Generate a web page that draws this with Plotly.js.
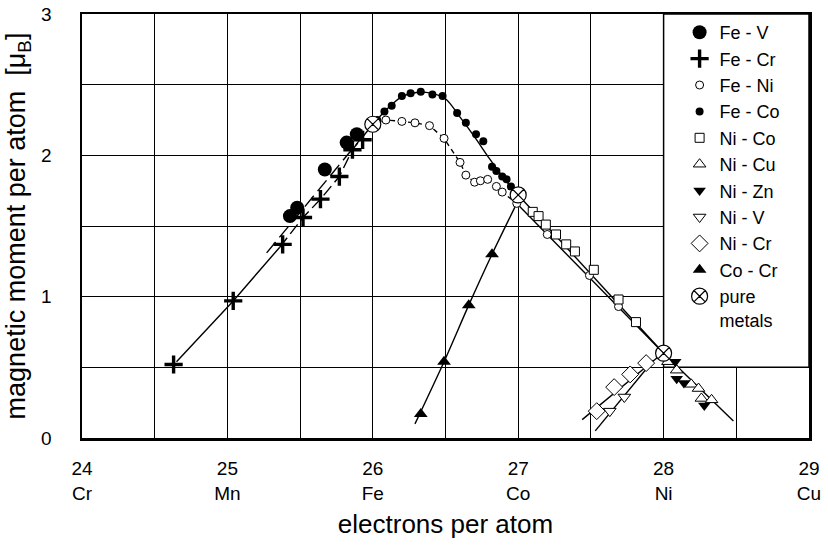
<!DOCTYPE html>
<html>
<head>
<meta charset="utf-8">
<script src="https://cdn.plot.ly/plotly-3.0.1.min.js"></script>
<style>html,body{margin:0;padding:0;background:#fff;}#chart{width:828px;height:547px;}</style>
</head>
<body>
<div id="chart"></div>
<script>
// ---- data ----
const xTickVals = [24, 25, 26, 27, 28, 29];
const xTickText = ['24<br>Cr', '25<br>Mn', '26<br>Fe', '27<br>Co', '28<br>Ni', '29<br>Cu'];

const feV_x = [25.43, 25.48, 25.67, 25.82, 25.89];
const feV_y = [1.57, 1.63, 1.90, 2.09, 2.15];

const feCr_x = [24.63, 25.04, 25.38, 25.52, 25.64, 25.77, 25.86, 25.93];
const feCr_y = [0.52, 0.97, 1.37, 1.56, 1.69, 1.85, 2.04, 2.11];

const feNi_x = [26.09, 26.20, 26.29, 26.39, 26.49, 26.60, 26.64, 26.70, 26.74, 26.79, 26.85, 26.89, 26.99, 27.20, 27.49, 27.69];
const feNi_y = [2.25, 2.24, 2.23, 2.21, 2.12, 1.95, 1.86, 1.81, 1.82, 1.83, 1.78, 1.74, 1.66, 1.44, 1.15, 0.93];

const feCo_x = [26.03, 26.08, 26.13, 26.20, 26.26, 26.33, 26.41, 26.48, 26.58, 26.64, 26.71, 26.76, 26.82, 26.85, 26.89, 26.92, 26.95];
const feCo_y = [2.25, 2.31, 2.35, 2.42, 2.44, 2.45, 2.43, 2.42, 2.30, 2.23, 2.15, 2.10, 1.92, 1.89, 1.85, 1.83, 1.78];

const niCo_x = [27.10, 27.14, 27.19, 27.26, 27.33, 27.39, 27.52, 27.69, 27.81];
const niCo_y = [1.60, 1.57, 1.51, 1.44, 1.37, 1.32, 1.19, 0.98, 0.82];

const niCu_x = [28.03, 28.09, 28.19, 28.24, 28.26, 28.33];
const niCu_y = [0.54, 0.48, 0.38, 0.35, 0.28, 0.27];

const niZn_x = [28.08, 28.09, 28.14, 28.28];
const niZn_y = [0.54, 0.42, 0.39, 0.23];

const niV_x = [27.63, 27.73];
const niV_y = [0.19, 0.29];

const niCr_x = [27.54, 27.66, 27.77, 27.88];
const niCr_y = [0.19, 0.36, 0.45, 0.53];

const coCr_x = [26.33, 26.49, 26.66, 26.82];
const coCr_y = [0.17, 0.54, 0.94, 1.30];

const pure_x = [26, 27, 28];
const pure_y = [2.22, 1.72, 0.60];
const pure_names = ['Fe', 'Co', 'Ni'];

// guide curves drawn in the reference
const feCrSolid_x = [24.65, 25.04, 25.36];
const feCrSolid_y = [0.54, 0.97, 1.35];
const feCrDash_x = [25.36, 25.52, 25.64, 25.77, 25.86, 26.0];
const feCrDash_y = [1.35, 1.56, 1.69, 1.85, 2.04, 2.22];
const feVDash_x = [25.27, 26.0];
const feVDash_y = [1.31, 2.22];
const feCoCurve_x = [26.0, 26.1, 26.2, 26.3, 26.4, 26.5, 26.6, 26.7, 26.8, 26.9, 27.0];
const feCoCurve_y = [2.22, 2.33, 2.415, 2.445, 2.44, 2.40, 2.27, 2.13, 1.98, 1.84, 1.72];
const feNiDash_x = [26.0, 26.09, 26.20, 26.29, 26.39, 26.49, 26.60, 26.64, 26.70, 26.74, 26.79, 26.85, 26.89, 26.99];
const feNiDash_y = [2.22, 2.25, 2.24, 2.23, 2.21, 2.12, 1.95, 1.86, 1.81, 1.82, 1.83, 1.78, 1.74, 1.66];
const feNiLine_x = [26.99, 28.0];
const feNiLine_y = [1.66, 0.60];
const niCoLine_x = [27.0, 28.0];
const niCoLine_y = [1.72, 0.60];
const coCrCurve_x = [26.29, 26.49, 26.66, 26.82, 26.99];
const coCrCurve_y = [0.10, 0.54, 0.94, 1.30, 1.66];
const niCrLine_x = [27.44, 27.97];
const niCrLine_y = [0.13, 0.58];
const niVLine_x = [27.53, 27.93];
const niVLine_y = [0.05, 0.55];
const niCuLine_x = [28.0, 28.48];
const niCuLine_y = [0.60, 0.12];

// ---- traces ----
const BLK = '#000';
function lineTrace(x, y, dash, shape) {
  return {x: x, y: y, type: 'scatter', mode: 'lines', showlegend: false, hoverinfo: 'skip',
          line: {color: BLK, width: 1.4, dash: dash || 'solid', shape: shape || 'linear', smoothing: 0.8}};
}
function markTrace(name, x, y, symbol, size, fill, lw) {
  return {x: x, y: y, type: 'scatter', mode: 'markers', name: name,
          marker: {symbol: symbol, size: size, color: fill, line: {color: BLK, width: lw}}};
}

const traces = [
  lineTrace(feCrSolid_x, feCrSolid_y),
  lineTrace(feCrDash_x, feCrDash_y, '12px,5px'),
  lineTrace(feVDash_x, feVDash_y, '14px,6px'),
  lineTrace(feCoCurve_x, feCoCurve_y, 'solid', 'spline'),
  lineTrace(feNiDash_x, feNiDash_y, '5px,4px'),
  lineTrace(feNiLine_x, feNiLine_y),
  lineTrace(niCoLine_x, niCoLine_y),
  lineTrace(coCrCurve_x, coCrCurve_y, 'solid', 'spline'),
  lineTrace(niCrLine_x, niCrLine_y),
  lineTrace(niVLine_x, niVLine_y),
  lineTrace(niCuLine_x, niCuLine_y),
  markTrace('Fe - V', feV_x, feV_y, 'circle', 14, BLK, 0),
  markTrace('Fe - Cr', feCr_x, feCr_y, 'cross-thin-open', 13, BLK, 3.4),
  markTrace('Fe - Ni', feNi_x, feNi_y, 'circle', 8, '#fff', 1),
  markTrace('Fe - Co', feCo_x, feCo_y, 'circle', 8, BLK, 0),
  markTrace('Ni - Co', niCo_x, niCo_y, 'square', 9, '#fff', 1),
  markTrace('Ni - Cu', niCu_x, niCu_y, 'triangle-up', 11, '#fff', 1),
  markTrace('Ni - Zn', niZn_x, niZn_y, 'triangle-down', 11, BLK, 0),
  markTrace('Ni - V', niV_x, niV_y, 'triangle-down', 11, '#fff', 1),
  markTrace('Ni - Cr', niCr_x, niCr_y, 'diamond', 13, '#fff', 1),
  markTrace('Co - Cr', coCr_x, coCr_y, 'triangle-up', 12, BLK, 0),
  Object.assign(markTrace('pure<br>metals', pure_x, pure_y, 'circle-x', 16, '#fff', 1.2), {text: pure_names})
];

const FONT = 'Liberation Sans, Arial, sans-serif';
const layout = {
  width: 828, height: 547,
  margin: {l: 82, r: 19, t: 14, b: 109},
  paper_bgcolor: '#fff', plot_bgcolor: '#fff',
  font: {family: FONT, color: BLK, size: 19},
  showlegend: true,
  xaxis: {
    range: [24, 29], tickvals: xTickVals, ticktext: xTickText,
    showgrid: true, gridcolor: BLK, gridwidth: 1,
    minor: {dtick: 0.5, showgrid: true, gridcolor: BLK, gridwidth: 1},
    showline: true, linecolor: BLK, linewidth: 2.5, mirror: true,
    zeroline: false, ticks: '', ticklabelstandoff: 12,
    tickfont: {size: 19, family: FONT},
    title: {text: 'electrons per atom', font: {size: 26, family: FONT}, standoff: 12}
  },
  yaxis: {
    range: [0, 3], dtick: 1,
    showgrid: true, gridcolor: BLK, gridwidth: 1,
    minor: {dtick: 0.5, showgrid: true, gridcolor: BLK, gridwidth: 1},
    showline: true, linecolor: BLK, linewidth: 2.5, mirror: true,
    zeroline: false, ticks: '', ticklabelstandoff: 24,
    tickfont: {size: 19, family: FONT},
    title: {text: 'magnetic moment per atom  [μ<sub>B</sub>]', font: {size: 27, family: FONT}, standoff: 8}
  },
  shapes: [{type: 'rect', xref: 'x', yref: 'y', x0: 28, x1: 29, y0: 0.5, y1: 3,
            fillcolor: '#fff', line: {color: BLK, width: 1.5}, layer: 'between'}],
  legend: {x: 0.822, xanchor: 'left', y: 1.0, yanchor: 'top', maxheight: 500,
           bgcolor: 'rgba(0,0,0,0)', borderwidth: 0,
           font: {size: 18, family: FONT}, itemsizing: 'trace', valign: 'top'}
};

Plotly.newPlot('chart', traces, layout, {displayModeBar: false, staticPlot: true});
</script>
</body>
</html>
